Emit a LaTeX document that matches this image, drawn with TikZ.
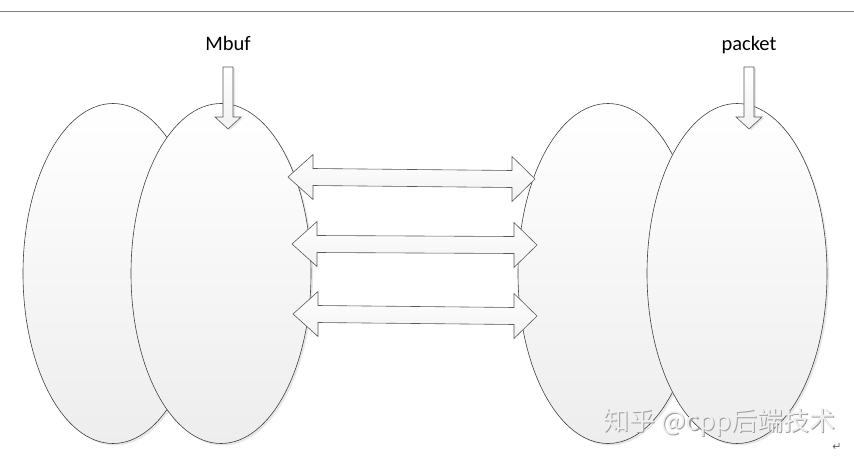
\documentclass[tikz,border=0pt]{standalone}
\usepackage{fontspec}
\setmainfont{Carlito}
\newfontfamily\cjkfont{Noto Sans CJK SC}
\newfontfamily\symfont{DejaVu Sans}
\usetikzlibrary{shapes.geometric,shadows}
\tikzset{
  memcell/.style={ellipse, draw=black!75, line width=0.6pt,
    minimum width=180pt, minimum height=340pt, inner sep=0pt,
    top color=white, bottom color=gray!14,
    drop shadow={opacity=0.18, shadow xshift=2pt, shadow yshift=-2pt}},
  blockarrow/.style={draw=black!65, line width=0.6pt, top color=white, bottom color=gray!10},
  lab/.style={font=\fontsize{20.5}{23}\selectfont}
}
\begin{document}
\begin{tikzpicture}[x=1pt,y=-1pt]
\useasboundingbox (0,0) rectangle (854,458);
\draw[gray, line width=1pt] (0,11.5) -- (854,11.5);

\node[memcell] (mbufback) at (113,273.5) {};
\node[memcell] (mbuffront) at (221,273.5) {};
\node[memcell] (pktback) at (608,273.5) {};
\node[memcell] (pktfront) at (737,273.5) {};

\foreach \xl/\yl/\xr/\yr in {288/177/535/179, 292/244/537/245, 293/314/537/316}
{
  \draw[blockarrow] (\xl,\yl) -- ++(25,-22.5) -- ++(0,14) -- (\xr-23,\yr-8.5)
    -- ++(0,-14) -- (\xr,\yr) -- ++(-23,22.5) -- ++(0,-14)
    -- (\xl+25,\yl+8.5) -- ++(0,14) -- cycle;
}

\node[lab, anchor=base] (mbuflabel) at (228,50) {Mbuf};
\node[lab, anchor=base] (pktlabel) at (749,50) {packet};

\coordinate (mbufin) at (228,67);
\coordinate (pktin) at (749,67);
\foreach \p in {mbufin, pktin}
{
  \draw[blockarrow, drop shadow={opacity=0.2, shadow xshift=2pt, shadow yshift=-1pt}]
    ([xshift=-5pt]\p) -- ++(10,0) -- ++(0,50) -- ++(8,0) -- ++(-13,12)
    -- ++(-13,-12) -- ++(8,0) -- cycle;
}

\node[font=\cjkfont\fontsize{26}{28}\selectfont, text=gray!75, anchor=base west] (markshadow) at (601.2,431.2) {知乎 @cpp后端技术};
\node[font=\cjkfont\fontsize{26}{28}\selectfont, text=gray!12, anchor=base west] (mark) at (600,430) {知乎 @cpp后端技术};
\node[font=\symfont\fontsize{11}{12}\selectfont, text=gray!80!black] (retmark) at (837,447) {↵};
\end{tikzpicture}
\end{document}
